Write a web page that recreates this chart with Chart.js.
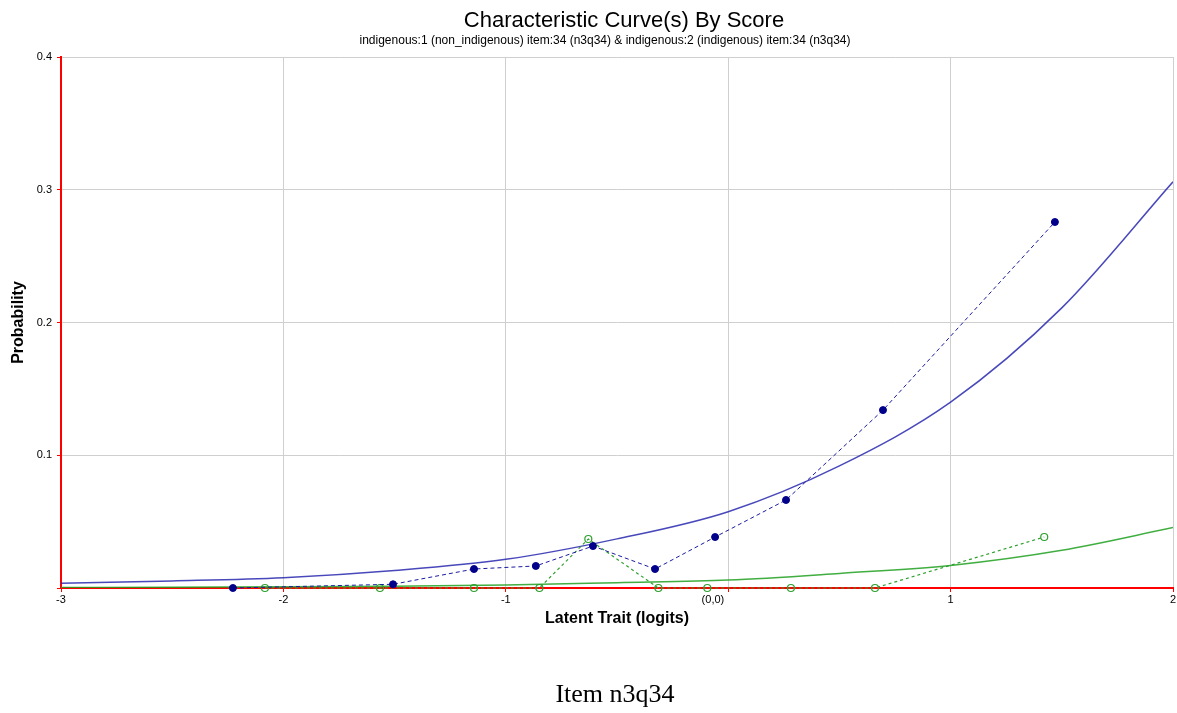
<!DOCTYPE html>
<html lang="en">
<head>
<meta charset="UTF-8">
<title>Characteristic Curve(s) By Score</title>
<script src="https://cdn.jsdelivr.net/npm/chart.js"></script>
<style>
    body { margin: 0; background: #fff; overflow: hidden; }
    #wrap { position: relative; width: 1177px; height: 713px; }
</style>
</head>
<body>
<div id="wrap"><canvas id="myChart" width="1177" height="713"></canvas></div>
<script>
    // axis ticks
    const xTickValues = [-3, -2, -1, 0, 1, 2];
    const xTickLabels = ['-3', '-2', '-1', '(0,0)          ', '1', '2'];
    const yTickValues = [0, 0.1, 0.2, 0.3, 0.4];

    // observed points, non_indigenous (blue)
    const obsNonX = [-2.227, -1.507, -1.143, -0.865, -0.608, -0.329, -0.059, 0.26, 0.696, 1.469];
    const obsNonY = [0, 0.0028, 0.0143, 0.0166, 0.0316, 0.0143, 0.0384, 0.0663, 0.134, 0.2757];

    // observed points, indigenous (green)
    const obsIndX = [-2.083, -1.566, -1.143, -0.849, -0.629, -0.314, -0.094, 0.282, 0.66, 1.421];
    const obsIndY = [0, 0, 0, 0, 0.0369, 0, 0, 0, 0, 0.0384];

    // model curves
    const curveX = [-3, -2.5, -2, -1.5, -1, -0.5, 0, 0.5, 1, 1.5, 2];
    const curveNonY = [0.0035, 0.0053, 0.0078, 0.0132, 0.0216, 0.037, 0.0575, 0.092, 0.14, 0.211, 0.306];
    const curveIndY = [0.0004, 0.0006, 0.0009, 0.0014, 0.0022, 0.0040, 0.0060, 0.0110, 0.017, 0.0284, 0.0455];

    const titleText = 'Characteristic Curve(s) By Score';
    const subtitleText = 'indigenous:1 (non_indigenous) item:34 (n3q34) & indigenous:2 (indigenous) item:34 (n3q34)';
    const captionText = 'Item n3q34';

    function toPoints(xs, ys) {
        return xs.map((x, i) => ({ x: x, y: ys[i] }));
    }

    const font = '"Liberation Sans", Arial, sans-serif';

    // titles on top, caption under the chart
    const textPlugin = {
        id: 'texts',
        afterDraw(chart) {
            const ctx = chart.ctx;
            ctx.save();
            ctx.fillStyle = '#000';
            ctx.textAlign = 'center';
            ctx.textBaseline = 'middle';
            ctx.font = '22px ' + font;
            ctx.fillText(titleText, 624, 21);
            ctx.font = '12px ' + font;
            ctx.fillText(subtitleText, 605, 41);
            ctx.font = '26px "Liberation Serif", "Times New Roman", serif';
            ctx.fillText(captionText, 615, 695);
            ctx.restore();
        }
    };

    const ctx = document.getElementById('myChart').getContext('2d');
    new Chart(ctx, {
        type: 'line',
        data: {
            datasets: [
                {
                    label: 'non_indigenous observed',
                    data: toPoints(obsNonX, obsNonY),
                    borderColor: '#1a1aa0',
                    borderWidth: 1,
                    borderDash: [4, 3],
                    pointRadius: 3.5,
                    pointBackgroundColor: '#00008b',
                    pointBorderColor: '#00008b',
                    pointBorderWidth: 1,
                    clip: false,
                    order: 0
                },
                {
                    label: 'indigenous observed',
                    data: toPoints(obsIndX, obsIndY),
                    borderColor: '#2f9f2f',
                    borderWidth: 1.2,
                    borderDash: [3, 3],
                    pointRadius: 3.5,
                    pointBackgroundColor: 'rgba(255,255,255,0)',
                    pointBorderColor: '#2f9f2f',
                    pointBorderWidth: 1.2,
                    clip: false,
                    order: 1
                },
                {
                    label: 'non_indigenous model',
                    data: toPoints(curveX, curveNonY),
                    borderColor: 'rgba(40,40,175,0.85)',
                    borderWidth: 1.5,
                    pointRadius: 0,
                    cubicInterpolationMode: 'monotone',
                    order: 2
                },
                {
                    label: 'indigenous model',
                    data: toPoints(curveX, curveIndY),
                    borderColor: 'rgba(30,160,30,0.85)',
                    borderWidth: 1.5,
                    pointRadius: 0,
                    cubicInterpolationMode: 'monotone',
                    order: 3
                }
            ]
        },
        options: {
            responsive: false,
            animation: false,
            layout: { autoPadding: false, padding: { left: 0, right: 4, top: 57, bottom: 85 } },
            plugins: {
                legend: { display: false },
                tooltip: { enabled: false },
                title: { display: false },
                subtitle: { display: false }
            },
            scales: {
                x: {
                    type: 'linear',
                    min: -3,
                    max: 2,
                    afterBuildTicks(scale) {
                        scale.ticks = xTickValues.map(v => ({ value: v }));
                    },
                    afterFit(scale) {
                        scale.height = 40;
                        scale.paddingLeft = 0;
                        scale.paddingRight = 0;
                    },
                    ticks: {
                        color: '#000',
                        font: { family: font, size: 11 },
                        padding: 1,
                        maxRotation: 0,
                        callback: (v) => xTickLabels[xTickValues.indexOf(v)]
                    },
                    grid: { color: '#cfcfcf', tickColor: '#ff0000', tickLength: 4, lineWidth: 1 },
                    border: { color: '#ff0000', width: 2 },
                    title: {
                        display: true,
                        text: 'Latent Trait (logits)',
                        color: '#000',
                        font: { family: font, size: 16, weight: 'bold' },
                        padding: { top: 0, bottom: 0 }
                    }
                },
                y: {
                    type: 'linear',
                    min: 0,
                    max: 0.4,
                    afterBuildTicks(scale) {
                        scale.ticks = yTickValues.map(v => ({ value: v }));
                    },
                    afterFit(scale) { scale.width = 61; },
                    ticks: {
                        color: '#000',
                        font: { family: font, size: 11 },
                        padding: 5,
                        callback: (v) => v === 0 ? '' : v.toFixed(1)
                    },
                    grid: { color: '#cfcfcf', tickColor: '#ff0000', tickLength: 4, lineWidth: 1 },
                    border: { color: '#ff0000', width: 2 },
                    title: {
                        display: true,
                        text: 'Probability',
                        color: '#000',
                        font: { family: font, size: 16, weight: 'bold' },
                        padding: { top: 9, bottom: 0 }
                    }
                }
            }
        },
        plugins: [textPlugin]
    });
</script>
</body>
</html>
